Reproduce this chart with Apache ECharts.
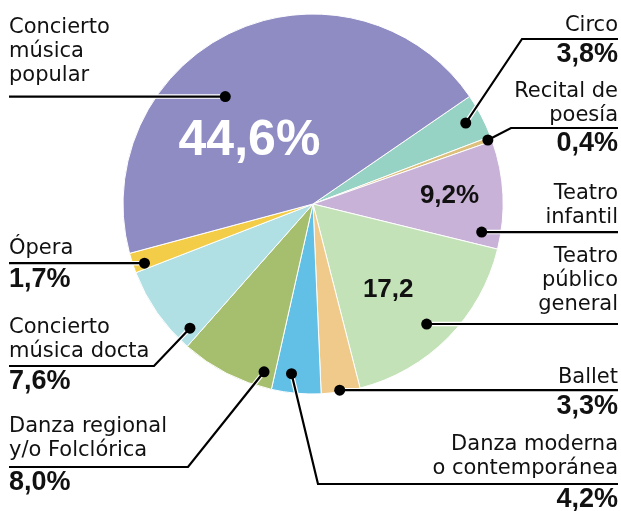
<!DOCTYPE html>
<html>
<head>
<meta charset="utf-8">
<script src="https://cdn.jsdelivr.net/npm/echarts@6/dist/echarts.min.js"></script>
<style>
  html, body { margin: 0; padding: 0; background: #fff; }
  #chart-container { width: 621px; height: 511px; }
</style>
</head>
<body>
<div id="chart-container"></div>
<script>
// data, clockwise from the top right
var categories = ['Circo', 'Recital de poesía', 'Teatro infantil', 'Teatro público general', 'Ballet',
  'Danza moderna o contemporánea', 'Danza regional y/o Folclórica', 'Concierto música docta', 'Ópera',
  'Concierto música popular'];
var values = [3.8, 0.4, 9.2, 17.2, 3.3, 4.2, 8.0, 7.6, 1.7, 44.6];
var valueLabels = ['3,8%', '0,4%', '9,2%', '17,2', '3,3%', '4,2%', '8,0%', '7,6%', '1,7%', '44,6%'];
var labelTexts = ['Circo', 'Recital de\npoesía', 'Teatro\ninfantil', 'Teatro\npúblico\ngeneral', 'Ballet',
  'Danza moderna\no contemporánea', 'Danza regional\ny/o Folclórica', 'Concierto\nmúsica docta', 'Ópera',
  'Concierto\nmúsica\npopular'];
var colors = ['#97d3c4', '#dcc07c', '#c9b2d7', '#c4e2b8', '#efca8b', '#62c0e7', '#a5bf6e', '#b0e0e4',
  '#f4cd48', '#8f8cc4'];

// annotation layout (dot = [share across slice, share of radius])
var layout = [
  { dot: [0.48, 0.91], side: 'right', elbow: [522, 39], gap: 6, pct: true },
  { dot: [0.5, 0.98], side: 'right', elbow: [511, 128], gap: 5, pct: true },
  { dot: [0.87, 0.9], side: 'right', gap: 7, inside: [0.478, 0.72, 26, '#111'] },
  { dot: [0.53, 0.87], side: 'right', gap: 12, inside: [0.565, 0.6, 26, '#111'] },
  { dot: [0.52, 0.99], side: 'right', gap: 6, pct: true },
  { dot: [0.64, 0.9], side: 'right', elbow: [318, 484], gap: 8, pct: true },
  { dot: [0.125, 0.92], side: 'left', elbow: [188, 467], gap: 9, pct: true },
  { dot: [0.12, 0.92], side: 'left', elbow: [154, 366], gap: 7, pct: true },
  { dot: [0.3, 0.94], side: 'left', gap: 8, pct: true },
  { dot: [0.41, 0.73], side: 'left', gap: 14, inside: [0.371, 0.469, 50, '#fff'] }
];

var CENTER = [313, 204];
var RADIUS = 190;
var START = 34.5;
var TEXT_FONT = '"DejaVu Sans", sans-serif';
var NUM_FONT = '"Liberation Sans", Arial, sans-serif';

var starts = [];
var acc = 0;
values.forEach(function (v) { starts.push(acc); acc += v; });

var dom = document.getElementById('chart-container');
var myChart = echarts.init(dom);
var option;

function renderAnnotation(params, api) {
  var i = params.dataIndex;
  var lay = layout[i];
  var dot = api.coord([api.value(0), api.value(1)]);
  var pts = [dot];
  var lineY = dot[1];
  if (lay.elbow) {
    pts.push(lay.elbow);
    lineY = lay.elbow[1];
  }
  var endX = lay.side === 'left' ? 9 : 618;
  pts.push([endX, lineY]);

  var children = [
    { type: 'polyline', shape: { points: pts }, style: { stroke: '#fff', lineWidth: 4.5, fill: null } },
    { type: 'polyline', shape: { points: pts }, style: { stroke: '#000', lineWidth: 2.2, fill: null } },
    { type: 'circle', shape: { cx: dot[0], cy: dot[1], r: 5.5 }, style: { fill: '#000' } }
  ];

  var lines = labelTexts[i].split('\n');
  var lastBase = lineY - lay.gap;
  lines.forEach(function (txt, k) {
    var base = lastBase - (lines.length - 1 - k) * 24;
    children.push({
      type: 'text', x: endX, y: base - 7,
      style: { text: txt, fill: '#111', font: '21px ' + TEXT_FONT, align: lay.side, verticalAlign: 'middle' }
    });
  });

  if (lay.pct) {
    children.push({
      type: 'text', x: endX, y: lineY + 25 - 9,
      style: { text: valueLabels[i], fill: '#111', font: 'bold 27px ' + NUM_FONT, align: lay.side, verticalAlign: 'middle' }
    });
  }
  if (lay.inside) {
    var p = api.coord([lay.inside[1], starts[i] + lay.inside[0] * values[i]]);
    children.push({
      type: 'text', x: p[0], y: p[1],
      style: { text: valueLabels[i], fill: lay.inside[3], font: 'bold ' + lay.inside[2] + 'px ' + NUM_FONT, align: 'center', verticalAlign: 'middle' }
    });
  }
  return { type: 'group', children: children };
}

option = {
  animation: false,
  backgroundColor: '#fff',
  polar: { center: CENTER, radius: RADIUS },
  angleAxis: { type: 'value', min: 0, max: 100, startAngle: START, clockwise: true, show: false },
  radiusAxis: { type: 'value', min: 0, max: 1, show: false },
  series: [
    {
      type: 'pie',
      center: CENTER,
      radius: [0, RADIUS],
      startAngle: START,
      clockwise: true,
      silent: true,
      label: { show: false },
      labelLine: { show: false },
      itemStyle: { borderColor: '#fff', borderWidth: 1 },
      data: categories.map(function (name, i) {
        return { name: name, value: values[i], itemStyle: { color: colors[i] } };
      })
    },
    {
      type: 'custom',
      coordinateSystem: 'polar',
      silent: true,
      clip: false,
      z: 5,
      encode: { radius: 0, angle: 1 },
      renderItem: renderAnnotation,
      data: categories.map(function (name, i) {
        return [layout[i].dot[1], starts[i] + layout[i].dot[0] * values[i]];
      })
    }
  ]
};

if (option && typeof option === 'object') {
  myChart.setOption(option);
}

window.addEventListener('resize', myChart.resize);
</script>
</body>
</html>
